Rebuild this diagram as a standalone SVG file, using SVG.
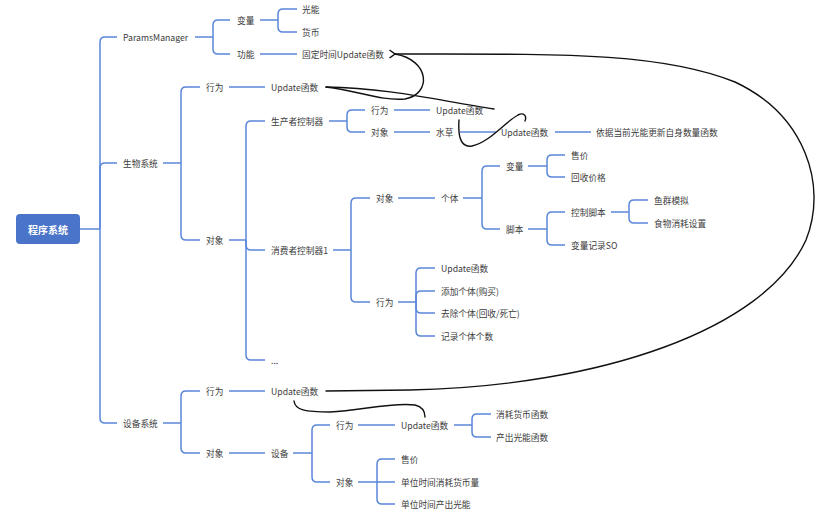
<svg xmlns="http://www.w3.org/2000/svg" width="828" height="519" viewBox="0 0 828 519">
<style>
.l{fill:none;stroke:#5b87d9;stroke-width:1.5}
.k{fill:none;stroke:#111;stroke-width:1.4;stroke-linecap:round}
text{font-family:"Noto Sans CJK SC","Noto Sans",sans-serif;font-size:8.7px;fill:#3c3c3c;dominant-baseline:central}
.root{fill:#4a74c9}
.rt{fill:#fff;font-size:10px;font-weight:bold;text-anchor:middle}
</style>
<defs>
<marker id="arr" markerWidth="10" markerHeight="10" refX="1.5" refY="5" orient="auto" markerUnits="userSpaceOnUse">
<path d="M7 1 L1.5 5 L7 9" fill="none" stroke="#111" stroke-width="1.5"/>
</marker>
</defs>
<rect width="828" height="519" fill="#fff"/>
<g id="connectors">
<path class="l" d="M80 229 H100"/>
<path class="l" d="M100 229 V42 Q100 37 105 37 H117"/>
<path class="l" d="M100 229 V168 Q100 163 105 163 H117"/>
<path class="l" d="M100 229 V418 Q100 423 105 423 H117"/>
<path class="l" d="M195 37 H213"/>
<path class="l" d="M213 37 V25 Q213 20 218 20 H230"/>
<path class="l" d="M213 37 V49 Q213 54 218 54 H230"/>
<path class="l" d="M260 20 H278"/>
<path class="l" d="M278 20 V14 Q278 9 283 9 H297"/>
<path class="l" d="M278 20 V27 Q278 32 283 32 H297"/>
<path class="l" d="M260 54 H297"/>
<path class="l" d="M163 163 H181"/>
<path class="l" d="M181 163 V92 Q181 87 186 87 H200"/>
<path class="l" d="M181 163 V235 Q181 240 186 240 H200"/>
<path class="l" d="M229 87 H265"/>
<path class="l" d="M229 240 H246"/>
<path class="l" d="M246 240 V126 Q246 121 251 121 H265"/>
<path class="l" d="M246 240 V245 Q246 250 251 250 H265"/>
<path class="l" d="M246 240 V355 Q246 360 251 360 H265"/>
<path class="l" d="M329 121 H347"/>
<path class="l" d="M347 121 V115 Q347 110 352 110 H365"/>
<path class="l" d="M347 121 V127 Q347 132 352 132 H365"/>
<path class="l" d="M394 110 H430"/>
<path class="l" d="M394 132 H430"/>
<path class="l" d="M460 132 H496"/>
<path class="l" d="M555 132 H591"/>
<path class="l" d="M333 250 H351"/>
<path class="l" d="M351 250 V203 Q351 198 356 198 H370"/>
<path class="l" d="M351 250 V297 Q351 302 356 302 H370"/>
<path class="l" d="M398 198 H435"/>
<path class="l" d="M463 198 H482"/>
<path class="l" d="M482 198 V171 Q482 166 487 166 H500"/>
<path class="l" d="M482 198 V224 Q482 229 487 229 H500"/>
<path class="l" d="M528 166 H547"/>
<path class="l" d="M547 166 V160 Q547 155 552 155 H565"/>
<path class="l" d="M547 166 V172 Q547 177 552 177 H565"/>
<path class="l" d="M528 229 H547"/>
<path class="l" d="M547 229 V217 Q547 212 552 212 H565"/>
<path class="l" d="M547 229 V240 Q547 245 552 245 H565"/>
<path class="l" d="M611 212 H629"/>
<path class="l" d="M629 212 V205 Q629 200 634 200 H648"/>
<path class="l" d="M629 212 V218 Q629 223 634 223 H648"/>
<path class="l" d="M398 302 H416"/>
<path class="l" d="M416 302 V273 Q416 268 421 268 H435"/>
<path class="l" d="M416 302 V296 Q416 291 421 291 H435"/>
<path class="l" d="M416 302 V308 Q416 313 421 313 H435"/>
<path class="l" d="M416 302 V331 Q416 336 421 336 H435"/>
<path class="l" d="M163 423 H181"/>
<path class="l" d="M181 423 V396 Q181 391 186 391 H200"/>
<path class="l" d="M181 423 V448 Q181 453 186 453 H200"/>
<path class="l" d="M229 391 H265"/>
<path class="l" d="M229 453 H265"/>
<path class="l" d="M293 453 H312"/>
<path class="l" d="M312 453 V430 Q312 425 317 425 H330"/>
<path class="l" d="M312 453 V477 Q312 482 317 482 H330"/>
<path class="l" d="M358 425 H395"/>
<path class="l" d="M454 425 H472"/>
<path class="l" d="M472 425 V419 Q472 414 477 414 H491"/>
<path class="l" d="M472 425 V432 Q472 437 477 437 H491"/>
<path class="l" d="M358 482 H377"/>
<path class="l" d="M377 482 V464 Q377 459 382 459 H395"/>
<path class="l" d="M377 482 H395"/>
<path class="l" d="M377 482 V499 Q377 504 382 504 H395"/>
<!-- hand-drawn black annotations -->
<path class="k" marker-end="url(#arr)" d="M326 391 L410 390 C600 386 765 330 806 240 C828 185 805 115 735 82 C660 52 560 54 395 54"/>
<path class="k" d="M326 87 C390 88 440 101 494 109"/>
<path class="k" d="M326 87 C360 91 380 101 405 99 C432 94 430 60 395 54"/>
<path class="k" d="M459 120 C458 135 460 148 472 146 C490 142 505 122 518 115 C524 112 527 116 525 121"/>
<path class="k" d="M294 401 C295 410 305 412 330 412 C360 411 390 402 415 405 C423 407 425 412 425 417"/>
</g>
<g id="n-root"><rect class="root" x="16" y="214" width="64" height="30" rx="4"/><text class="rt" x="48" y="229">程序系统</text></g>
<g id="n-params"><text x="123" y="37">ParamsManager</text></g>
<g id="n-params-var"><text x="237" y="20">变量</text></g>
<g id="n-guangneng"><text x="302" y="9">光能</text></g>
<g id="n-huobi"><text x="302" y="32">货币</text></g>
<g id="n-params-func"><text x="237" y="54">功能</text></g>
<g id="n-fixed-update"><text x="302" y="54">固定时间Update函数</text></g>
<g id="n-bio"><text x="123" y="163">生物系统</text></g>
<g id="n-bio-act"><text x="206" y="87">行为</text></g>
<g id="n-bio-update"><text x="271" y="87">Update函数</text></g>
<g id="n-bio-obj"><text x="206" y="240">对象</text></g>
<g id="n-producer"><text x="271" y="121">生产者控制器</text></g>
<g id="n-prod-act"><text x="371" y="110">行为</text></g>
<g id="n-prod-update"><text x="436" y="110">Update函数</text></g>
<g id="n-prod-obj"><text x="371" y="132">对象</text></g>
<g id="n-shuicao"><text x="436" y="132">水草</text></g>
<g id="n-sc-update"><text x="501" y="132">Update函数</text></g>
<g id="n-sc-func"><text x="596" y="132">依据当前光能更新自身数量函数</text></g>
<g id="n-consumer"><text x="271" y="250">消费者控制器1</text></g>
<g id="n-con-obj"><text x="376" y="198">对象</text></g>
<g id="n-geti"><text x="441" y="198">个体</text></g>
<g id="n-geti-var"><text x="506" y="166">变量</text></g>
<g id="n-shoujia1"><text x="571" y="155">售价</text></g>
<g id="n-huishou"><text x="571" y="177">回收价格</text></g>
<g id="n-jiaoben"><text x="506" y="229">脚本</text></g>
<g id="n-ctrl-script"><text x="571" y="212">控制脚本</text></g>
<g id="n-yuqun"><text x="654" y="200">鱼群模拟</text></g>
<g id="n-shiwu"><text x="654" y="223">食物消耗设置</text></g>
<g id="n-so"><text x="571" y="245">变量记录SO</text></g>
<g id="n-con-act"><text x="376" y="302">行为</text></g>
<g id="n-con-update"><text x="441" y="268">Update函数</text></g>
<g id="n-add"><text x="441" y="291">添加个体(购买)</text></g>
<g id="n-remove"><text x="441" y="313">去除个体(回收/死亡)</text></g>
<g id="n-count"><text x="441" y="336">记录个体个数</text></g>
<g id="n-more"><text x="271" y="360">...</text></g>
<g id="n-device-sys"><text x="123" y="423">设备系统</text></g>
<g id="n-dev-act"><text x="206" y="391">行为</text></g>
<g id="n-dev-update"><text x="271" y="391">Update函数</text></g>
<g id="n-dev-obj"><text x="206" y="453">对象</text></g>
<g id="n-device"><text x="271" y="453">设备</text></g>
<g id="n-device-act"><text x="336" y="425">行为</text></g>
<g id="n-device-update"><text x="401" y="425">Update函数</text></g>
<g id="n-consume"><text x="496" y="414">消耗货币函数</text></g>
<g id="n-produce"><text x="496" y="437">产出光能函数</text></g>
<g id="n-device-obj"><text x="336" y="482">对象</text></g>
<g id="n-shoujia2"><text x="401" y="459">售价</text></g>
<g id="n-cost"><text x="401" y="482">单位时间消耗货币量</text></g>
<g id="n-output"><text x="401" y="504">单位时间产出光能</text></g>
</svg>
